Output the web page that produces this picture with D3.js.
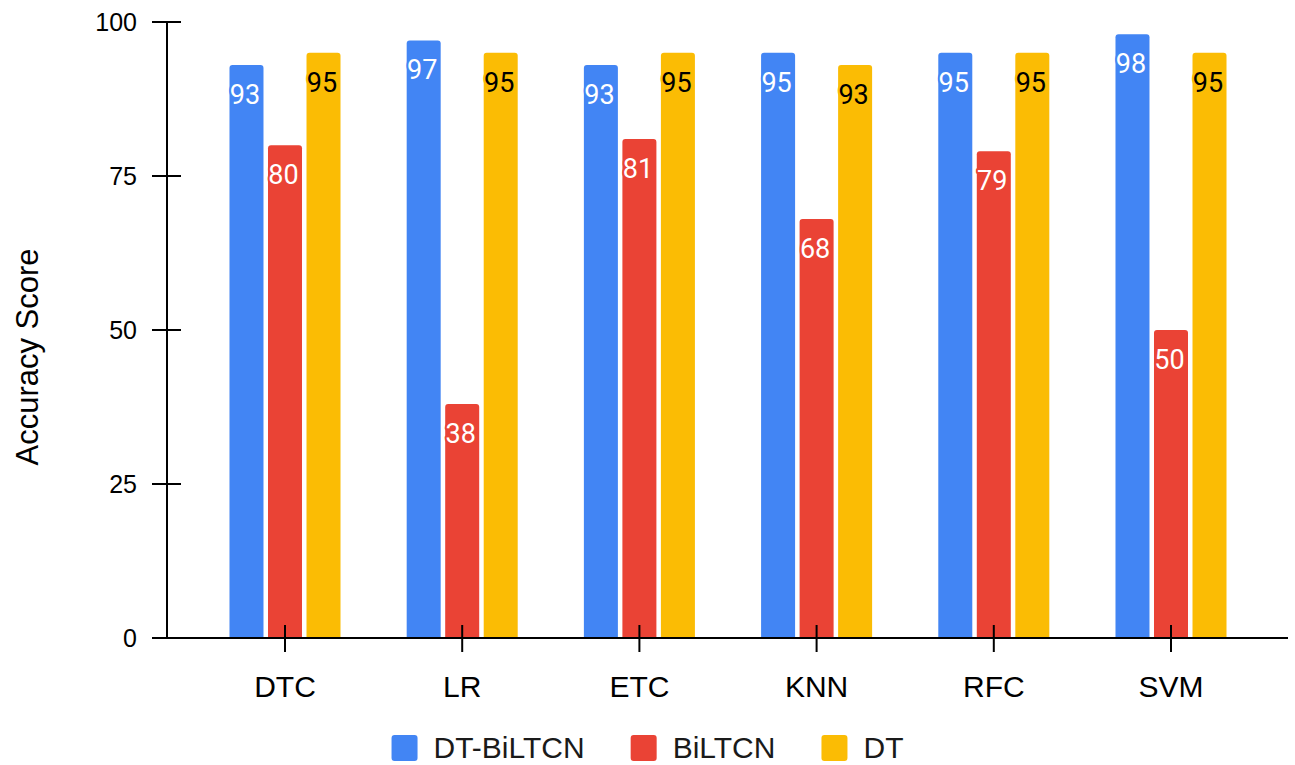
<!DOCTYPE html>
<html>
<head>
<meta charset="utf-8">
<script src="https://cdn.jsdelivr.net/npm/d3@7"></script>
<style>
  html, body { margin: 0; padding: 0; background: #fff; }
  svg { display: block; }
</style>
</head>
<body>
<svg id="chart" width="1295" height="765"></svg>
<script>
// Accuracy of each classifier under three feature sets
const categories = ["DTC", "LR", "ETC", "KNN", "RFC", "SVM"];
const seriesNames = ["DT-BiLTCN", "BiLTCN", "DT"];
const dtBiltcn = [93, 97, 93, 95, 95, 98];
const biltcn = [80, 38, 81, 68, 79, 50];
const dt = [95, 95, 95, 93, 95, 95];
const yTicks = [0, 25, 50, 75, 100];
const colors = ["#4285F4", "#EA4335", "#FBBC04"];
const labelColors = ["#ffffff", "#ffffff", "#000000"];

const seriesValues = [dtBiltcn, biltcn, dt];

const svg = d3.select("#chart");
const W = 1295, H = 765;

const x0 = d3.scaleBand()
  .domain(categories)
  .range([196.4, 1259.6])
  .paddingInner(0.348)
  .paddingOuter(0.174);

const x1 = d3.scaleBand()
  .domain(seriesNames)
  .range([0, x0.bandwidth()])
  .paddingInner(0.117)
  .paddingOuter(0.0585);

const y = d3.scaleLinear().domain([0, 100]).range([638, 22]);

// Bars with rounded top corners
function barPath(x, yTop, w, yBase, r) {
  r = Math.min(r, w / 2, yBase - yTop);
  return `M${x},${yBase}V${yTop + r}Q${x},${yTop} ${x + r},${yTop}` +
         `H${x + w - r}Q${x + w},${yTop} ${x + w},${yTop + r}V${yBase}Z`;
}

const rows = [];
categories.forEach((c, i) => {
  seriesNames.forEach((s, j) => {
    rows.push({ cat: c, series: s, si: j, value: seriesValues[j][i] });
  });
});

const groups = svg.append("g").attr("class", "bars");
groups.selectAll("path")
  .data(rows)
  .join("path")
  .attr("d", d => barPath(x0(d.cat) + x1(d.series), y(d.value), x1.bandwidth(), y(0), 3))
  .attr("fill", d => colors[d.si]);

// Value labels inside the bar tops
svg.append("g").attr("class", "labels")
  .selectAll("text")
  .data(rows)
  .join("text")
  .attr("x", d => x0(d.cat) + x1(d.series) + x1.bandwidth() / 2 - 1.5)
  .attr("y", d => y(d.value) + 30)
  .attr("text-anchor", "middle")
  .attr("dominant-baseline", "central")
  .attr("font-family", "Roboto, 'Noto Sans', sans-serif")
  .attr("font-size", 27)
  .attr("fill", d => labelColors[d.si])
  .attr("stroke", d => colors[d.si])
  .attr("stroke-width", 4)
  .attr("stroke-linejoin", "round")
  .attr("paint-order", "stroke")
  .text(d => d.value);

// Y axis
const yAxisX = 167;
const yAxis = svg.append("g").attr("class", "y-axis");
yAxis.append("line")
  .attr("x1", yAxisX).attr("x2", yAxisX)
  .attr("y1", y(100)).attr("y2", y(0))
  .attr("stroke", "#000").attr("stroke-width", 2);
yAxis.selectAll("line.tick")
  .data(yTicks)
  .join("line")
  .attr("class", "tick")
  .attr("x1", 152).attr("x2", 181)
  .attr("y1", d => y(d)).attr("y2", d => y(d))
  .attr("stroke", "#000").attr("stroke-width", 2);
yAxis.selectAll("text")
  .data(yTicks)
  .join("text")
  .attr("x", 137)
  .attr("y", d => y(d))
  .attr("text-anchor", "end")
  .attr("dominant-baseline", "central")
  .attr("font-family", "'Liberation Sans', Arial, sans-serif")
  .attr("font-size", 25)
  .attr("fill", "#000")
  .text(d => d);

// X axis
const xAxis = svg.append("g").attr("class", "x-axis");
xAxis.append("line")
  .attr("x1", 153).attr("x2", 1288)
  .attr("y1", y(0)).attr("y2", y(0))
  .attr("stroke", "#000").attr("stroke-width", 2);
xAxis.selectAll("line.tick")
  .data(categories)
  .join("line")
  .attr("class", "tick")
  .attr("x1", d => x0(d) + x0.bandwidth() / 2)
  .attr("x2", d => x0(d) + x0.bandwidth() / 2)
  .attr("y1", 625).attr("y2", 652)
  .attr("stroke", "#000").attr("stroke-width", 2);
xAxis.selectAll("text")
  .data(categories)
  .join("text")
  .attr("x", d => x0(d) + x0.bandwidth() / 2)
  .attr("y", 697)
  .attr("text-anchor", "middle")
  .attr("font-family", "'Liberation Sans', Arial, sans-serif")
  .attr("font-size", 30)
  .attr("fill", "#000")
  .text(d => d);

// Axis title
svg.append("text")
  .attr("transform", "translate(38,357) rotate(-90)")
  .attr("text-anchor", "middle")
  .attr("font-family", "'Liberation Sans', Arial, sans-serif")
  .attr("font-size", 31)
  .attr("fill", "#000")
  .text("Accuracy Score");

// Legend, centred under the chart
const legend = svg.append("g").attr("class", "legend");
const items = legend.selectAll("g")
  .data(seriesNames)
  .join("g");
items.append("rect")
  .attr("width", 26).attr("height", 26)
  .attr("rx", 3).attr("ry", 3)
  .attr("y", 735)
  .attr("fill", (d, i) => colors[i]);
items.append("text")
  .attr("x", 42)
  .attr("y", 758)
  .attr("font-family", "'Liberation Sans', Arial, sans-serif")
  .attr("font-size", 30)
  .attr("fill", "#1a1a1a")
  .text(d => d);

const widths = [];
items.each(function () {
  widths.push(this.getBBox().width);
});
const gap = 46;
const total = d3.sum(widths) + gap * (widths.length - 1);
let cursor = W / 2 - total / 2;
items.attr("transform", (d, i) => {
  const t = `translate(${cursor},0)`;
  cursor += widths[i] + gap;
  return t;
});
</script>
</body>
</html>
